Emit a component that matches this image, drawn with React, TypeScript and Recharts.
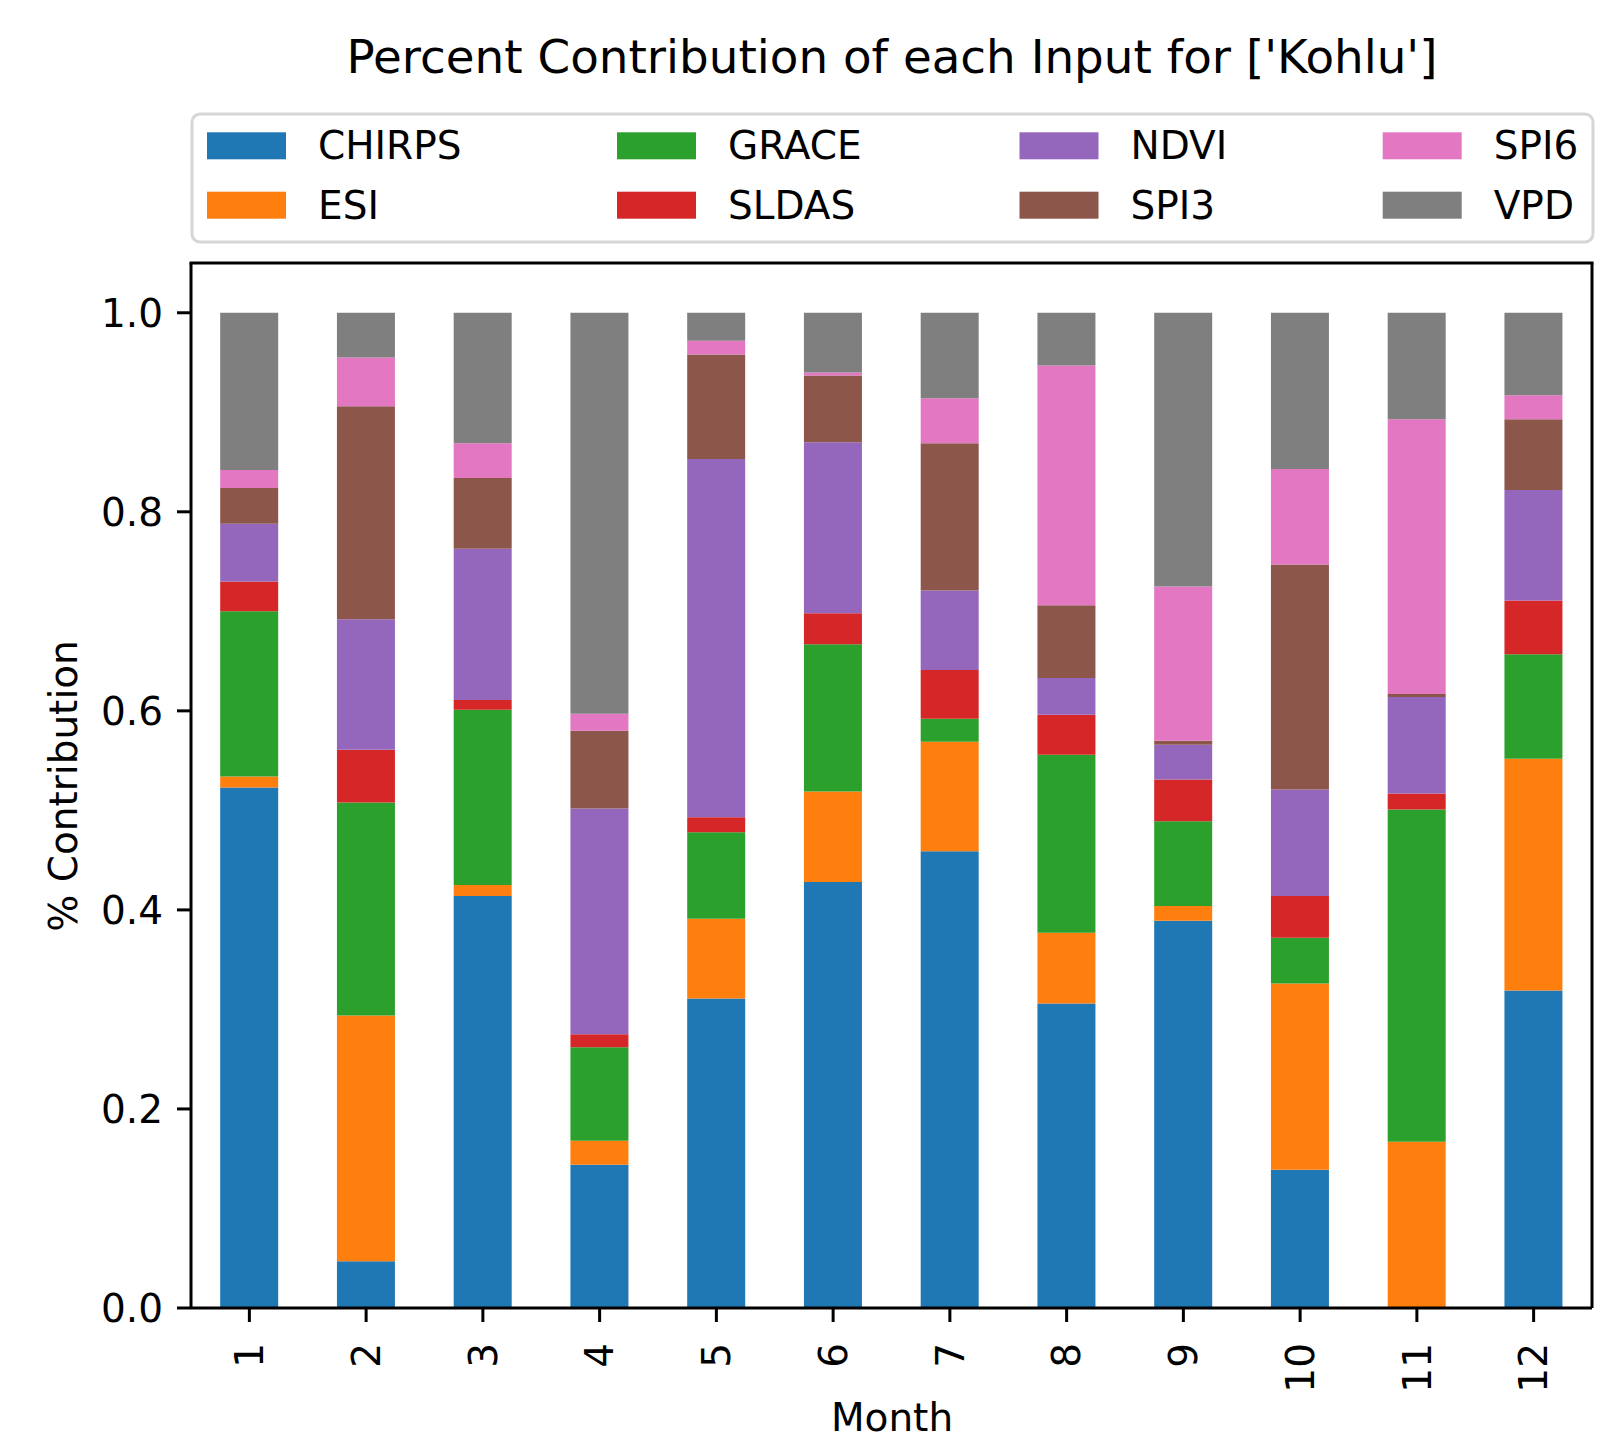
import React from 'react';
import { BarChart, Bar, XAxis, YAxis } from 'recharts';

const months = ['1', '2', '3', '4', '5', '6', '7', '8', '9', '10', '11', '12'];
const seriesNames = ['CHIRPS', 'ESI', 'GRACE', 'SLDAS', 'NDVI', 'SPI3', 'SPI6', 'VPD'];
const seriesColors = ['#1f77b4', '#ff7f0e', '#2ca02c', '#d62728', '#9467bd', '#8c564b', '#e377c2', '#7f7f7f'];

const CHIRPS = [0.523, 0.047, 0.414, 0.144, 0.311, 0.428, 0.459, 0.306, 0.389, 0.139, 0.0, 0.319];
const ESI = [0.011, 0.247, 0.011, 0.024, 0.080, 0.091, 0.110, 0.071, 0.015, 0.187, 0.167, 0.233];
const GRACE = [0.166, 0.214, 0.176, 0.094, 0.087, 0.148, 0.023, 0.179, 0.085, 0.046, 0.334, 0.105];
const SLDAS = [0.030, 0.053, 0.010, 0.013, 0.015, 0.031, 0.049, 0.040, 0.042, 0.042, 0.016, 0.054];
const NDVI = [0.058, 0.131, 0.152, 0.227, 0.360, 0.172, 0.080, 0.037, 0.035, 0.107, 0.097, 0.111];
const SPI3 = [0.036, 0.214, 0.071, 0.078, 0.105, 0.067, 0.148, 0.073, 0.004, 0.226, 0.003, 0.071];
const SPI6 = [0.018, 0.049, 0.035, 0.017, 0.014, 0.003, 0.045, 0.241, 0.155, 0.096, 0.276, 0.024];
const VPD = [0.158, 0.045, 0.131, 0.403, 0.028, 0.060, 0.086, 0.053, 0.275, 0.157, 0.107, 0.083];

const yTicks = [0, 0.2, 0.4, 0.6, 0.8, 1.0];
const titleText = "Percent Contribution of each Input for ['Kohlu']";
const yLabel = '% Contribution';
const xLabel = 'Month';

const seriesValues = [CHIRPS, ESI, GRACE, SLDAS, NDVI, SPI3, SPI6, VPD];
const data = months.map((m, i) => {
  const row: Record<string, any> = { month: m };
  seriesNames.forEach((n, k) => {
    row[n] = seriesValues[k][i];
  });
  return row;
});

const FONT = 'DejaVu Sans';
const FS = 39;

const XTick = (props: any) => {
  const { x, y, payload } = props;
  return (
    <text
      x={x}
      y={y}
      transform={`rotate(-90, ${x}, ${y})`}
      textAnchor="end"
      dy="0.355em"
      fontSize={FS}
      fill="#000"
      fontFamily={FONT}
    >
      {payload.value}
    </text>
  );
};

const legendCols = [207, 617, 1019.5, 1382.7];
const legendRows = [132.3, 191.7];

// plot frame (axes box) bounds
const PL = 191;
const PT = 263;
const PR = 1592;
const PB = 1308;

export default function App() {
  return (
    <div style={{ position: 'absolute', left: 0, top: 0, width: 1613, height: 1432, background: '#fff', fontFamily: FONT, overflow: 'hidden' }}>
      <BarChart
        width={1613}
        height={1432}
        data={data}
        margin={{ top: PT, right: 1613 - PR, bottom: 1432 - PB - 50, left: PL - 100 }}
        barCategoryGap="25%"
      >
        <XAxis
          dataKey="month"
          height={50}
          tick={<XTick />}
          tickSize={14}
          tickMargin={21}
          axisLine={{ stroke: '#000', strokeWidth: 3 }}
          tickLine={{ stroke: '#000', strokeWidth: 3 }}
          interval={0}
        />
        <YAxis
          width={100}
          domain={[0, 1.05]}
          ticks={yTicks}
          type="number"
          allowDataOverflow
          tickFormatter={(v: number) => v.toFixed(1)}
          tick={{ fontSize: FS, fill: '#000', fontFamily: FONT }}
          tickSize={14}
          tickMargin={14}
          axisLine={{ stroke: '#000', strokeWidth: 3 }}
          tickLine={{ stroke: '#000', strokeWidth: 3 }}
        />
        {seriesNames.map((n, k) => (
          <Bar key={n} dataKey={n} stackId="a" fill={seriesColors[k]} isAnimationActive={false} />
        ))}
      </BarChart>
      <svg width={1613} height={1432} style={{ position: 'absolute', left: 0, top: 0, pointerEvents: 'none' }}>
        <line x1={PL - 1.5} y1={PT} x2={PR + 1.5} y2={PT} stroke="#000" strokeWidth={3} />
        <line x1={PR} y1={PT} x2={PR} y2={PB} stroke="#000" strokeWidth={3} />
        <text x={892} y={73} textAnchor="middle" fontSize={46.8} fontFamily={FONT} fill="#000">
          {titleText}
        </text>
        <rect x={192} y={114} width={1401} height={128} rx={8} ry={8} fill="#fff" stroke="#d6d6d6" strokeWidth={3} />
        {seriesNames.map((n, k) => {
          const col = Math.floor(k / 2);
          const row = k % 2;
          const px = legendCols[col];
          const py = legendRows[row];
          return (
            <g key={n}>
              <rect x={px} y={py} width={79} height={27} fill={seriesColors[k]} />
              <text x={px + 111} y={py + 27} fontSize={FS} fontFamily={FONT} fill="#000">
                {n}
              </text>
            </g>
          );
        })}
        <text
          x={77}
          y={786}
          transform="rotate(-90, 77, 786)"
          textAnchor="middle"
          fontSize={FS}
          fontFamily={FONT}
          fill="#000"
        >
          {yLabel}
        </text>
        <text x={892} y={1431} textAnchor="middle" fontSize={FS} fontFamily={FONT} fill="#000">
          {xLabel}
        </text>
      </svg>
    </div>
  );
}
